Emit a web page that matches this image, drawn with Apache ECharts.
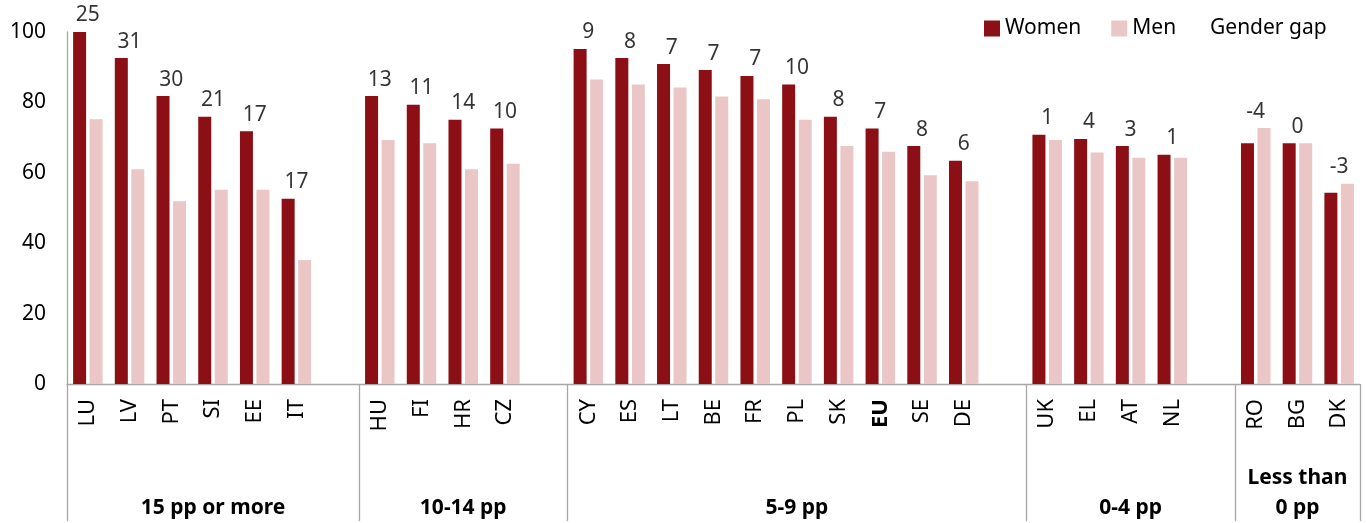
<!DOCTYPE html>
<html>
<head>
<meta charset="utf-8">
<script src="https://cdn.jsdelivr.net/npm/echarts@6/dist/echarts.min.js"></script>
<style>
  html, body { margin: 0; padding: 0; background: #ffffff; }
  #chart { width: 1366px; height: 523px; }
</style>
</head>
<body>
<div id="chart"></div>
<script>
// Categories ('' = spacer slot between groups)
const countries = ['LU','LV','PT','SI','EE','IT','',
                   'HU','FI','HR','CZ','',
                   'CY','ES','LT','BE','FR','PL','SK','EU','SE','DE','',
                   'UK','EL','AT','NL','',
                   'RO','BG','DK'];
const women = [100, 92.6, 81.8, 75.9, 71.8, 52.6, null,
               81.8, 79.3, 75.1, 72.6, null,
               95.2, 92.6, 90.9, 89.2, 87.5, 85.1, 75.9, 72.6, 67.6, 63.4, null,
               70.8, 69.6, 67.6, 65.1, null,
               68.4, 68.4, 54.3];
const men = [75.2, 61.0, 51.9, 55.2, 55.2, 35.2, null,
             69.3, 68.4, 61.0, 62.6, null,
             86.5, 85.1, 84.2, 81.7, 80.9, 75.1, 67.6, 66.0, 59.3, 57.6, null,
             69.3, 65.8, 64.3, 64.3, null,
             72.7, 68.4, 56.9];
const gap = [25, 31, 30, 21, 17, 17, null,
             13, 11, 14, 10, null,
             9, 8, 7, 7, 7, 10, 8, 7, 8, 6, null,
             1, 4, 3, 1, null,
             -4, 0, -3];
const groupLabels = ['15 pp or more', '10-14 pp', '5-9 pp', '0-4 pp', 'Less than\n0 pp'];
const groupSizes = [7, 5, 11, 5, 3];
const yTicks = [0, 20, 40, 60, 80, 100];

const FONT = 'Noto Sans';
const AXIS_GREY = '#A6A6A6';

// group boundaries & centers (in slot units)
const bounds = [0];
groupSizes.forEach(s => bounds.push(bounds[bounds.length - 1] + s));
const centers = groupSizes.map((s, i) => bounds[i] + s / 2);

const gapAnchor = women.map((w, i) => (w == null ? null : Math.max(w, men[i])));

const chart = echarts.init(document.getElementById('chart'), null, { renderer: 'canvas' });
chart.setOption({
  animation: false,
  textStyle: { fontFamily: FONT },
  grid: { left: 67, right: 6, top: 32, bottom: 136.5, containLabel: false },
  legend: [
    {
      data: ['Women', 'Men'],
      left: 979, top: 13,
      icon: 'rect', itemWidth: 16, itemHeight: 16, itemGap: 30,
      textStyle: { fontSize: 21, color: '#000', fontFamily: FONT }
    },
    {
      data: ['Gender gap'],
      left: 1200, top: 13,
      itemWidth: 0, itemHeight: 0,
      textStyle: { fontSize: 21, color: '#000', fontFamily: FONT }
    }
  ],
  xAxis: [
    {
      type: 'category',
      data: countries,
      boundaryGap: true,
      axisLine: { show: true, lineStyle: { color: AXIS_GREY, width: 1.3 } },
      axisTick: { show: false },
      axisLabel: {
        interval: 0, rotate: 90, margin: 15,
        fontSize: 22, color: '#000', fontFamily: FONT,
        formatter: v => (v === 'EU' ? '{b|EU}' : v),
        rich: { b: { fontWeight: 'bold', fontSize: 22, fontFamily: FONT, color: '#000' } }
      }
    },
    {
      type: 'value',
      min: 0, max: bounds[bounds.length - 1],
      position: 'bottom',
      axisLine: { show: false },
      splitLine: { show: false },
      axisTick: {
        show: true, customValues: bounds, length: 137, inside: false,
        lineStyle: { color: AXIS_GREY, width: 1.3 }
      },
      axisLabel: {
        customValues: centers,
        margin: 139,
        verticalAlign: 'bottom',
        fontSize: 21, fontWeight: 'bold', color: '#000', fontFamily: FONT,
        lineHeight: 30, align: 'center',
        formatter: v => {
          const i = centers.findIndex(c => Math.abs(c - v) < 1e-6);
          return i >= 0 ? groupLabels[i] : '';
        }
      }
    }
  ],
  yAxis: {
    type: 'value', min: 0, max: 100, interval: 20,
    axisLine: { show: true, lineStyle: { color: AXIS_GREY, width: 1.3 } },
    axisTick: { show: false },
    splitLine: { show: false },
    axisLabel: {
      margin: 21, fontSize: 21, color: '#000', fontFamily: FONT,
      formatter: v => (yTicks.indexOf(v) >= 0 ? String(v) : '')
    }
  },
  series: [
    {
      name: 'Women', type: 'bar', xAxisIndex: 0, data: women,
      barWidth: 13, barGap: '27%',
      itemStyle: { color: '#8B0F15' }
    },
    {
      name: 'Men', type: 'bar', xAxisIndex: 0, data: men,
      barWidth: 13,
      itemStyle: { color: '#EBC6C6' }
    },
    {
      name: 'Gender gap', type: 'scatter', xAxisIndex: 0,
      data: gapAnchor.map((y, i) => (y == null ? null : { value: y, gap: gap[i] })),
      symbolSize: 0,
      itemStyle: { color: 'rgba(0,0,0,0)' },
      label: {
        show: true, position: 'top', distance: 6,
        fontSize: 21, color: '#000', fontFamily: FONT,
        formatter: p => String(gap[p.dataIndex])
      }
    }
  ]
});
</script>
</body>
</html>
